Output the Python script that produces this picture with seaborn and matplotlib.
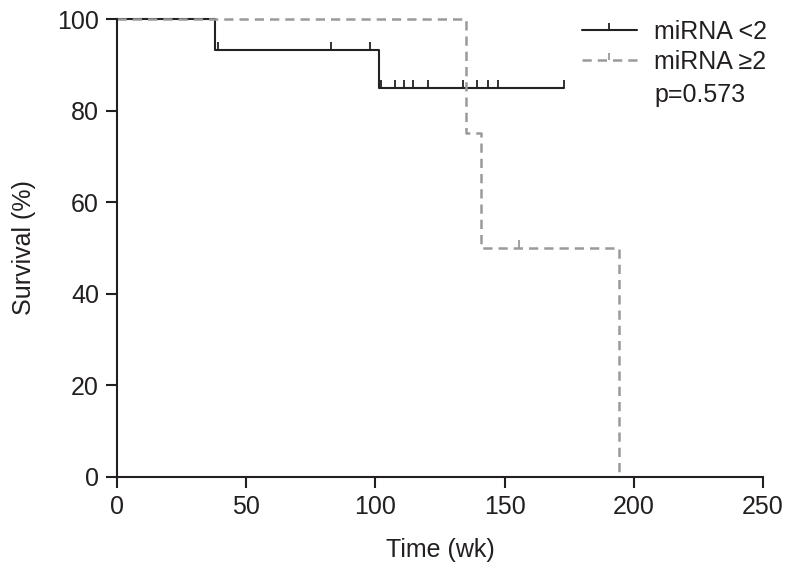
import numpy as np
import pandas as pd
import seaborn as sns
import matplotlib.pyplot as plt
from matplotlib.lines import Line2D
from matplotlib.path import Path

# follow-up times (wk) and event flags (1 = death, 0 = censored)
low_times = [38, 39, 83, 98, 101.5, 102, 107.5, 111, 114.5, 120.5, 134, 139.5, 143.5, 147.5, 173]
low_events = [1, 0, 0, 0, 1, 0, 0, 0, 0, 0, 0, 0, 0, 0, 0]
high_times = [135, 141, 155.5, 194.5]
high_events = [1, 1, 0, 1]
group_labels = ['miRNA <2', 'miRNA \u22652']
p_text = 'p=0.573'
x_ticks = [0, 50, 100, 150, 200, 250]
y_ticks = [0, 20, 40, 60, 80, 100]


def km_table(times, events):
    df = pd.DataFrame({'t': times, 'e': events}).sort_values('t')
    n = len(df)
    s = 1.0
    steps = [(0.0, 100.0)]
    cens = []
    for t, e in zip(df['t'], df['e']):
        if e == 1:
            s = s * (1 - 1 / n)
        else:
            cens.append((t, s * 100))
        steps.append((t, s * 100))
        n -= 1
    return pd.DataFrame(steps, columns=['time', 'surv']), pd.DataFrame(cens, columns=['time', 'surv'])


sns.set_style('ticks')
plt.rcParams['font.family'] = ['Liberation Sans', 'DejaVu Sans']
plt.rcParams['text.color'] = '#231f20'
plt.rcParams['axes.labelcolor'] = '#231f20'
plt.rcParams['xtick.color'] = '#231f20'
plt.rcParams['ytick.color'] = '#231f20'

fig = plt.figure(figsize=(7.97, 5.76), dpi=100)
ax = fig.add_axes([0.147, 0.172, 0.81, 0.795])

tick_up = Path([(0, 0), (0, 1)])

styles = [
    dict(color='#222222', linestyle='-', lw=1.5),
    dict(color='#9a9a9a', linestyle=(0, (3.7, 2.4)), lw=1.8),
]
handles = []
for (times, events), st, lab in zip([(low_times, low_events), (high_times, high_events)], styles, group_labels):
    steps, cens = km_table(times, events)
    sns.lineplot(data=steps, x='time', y='surv', ax=ax, drawstyle='steps-post',
                 estimator=None, sort=False, color=st['color'], linestyle=st['linestyle'],
                 linewidth=st['lw'])
    ax.plot(cens['time'], cens['surv'], linestyle='none', marker=tick_up,
            markersize=12, markeredgewidth=1.3, color=st['color'])
    handles.append(Line2D([], [], color=st['color'], linestyle=st['linestyle'], lw=st['lw'],
                          marker=tick_up, markersize=10, markeredgewidth=1.3))

ax.set_xlim(0, 250)
ax.set_ylim(0, 100)
ax.set_xticks(x_ticks)
ax.set_yticks(y_ticks)
ax.tick_params(labelsize=18, length=8, width=1.5, direction='out', pad=5)
ax.set_xlabel('Time (wk)', fontsize=18, labelpad=14)
ax.set_ylabel('Survival (%)', fontsize=18, labelpad=15)
for sp in ['left', 'bottom']:
    ax.spines[sp].set_linewidth(1.5)
    ax.spines[sp].set_color('#231f20')
sns.despine(ax=ax)
for ln in ax.lines:
    ln.set_clip_on(False)

leg = ax.legend(handles, group_labels, loc='upper left', bbox_to_anchor=(0.72, 0.998),
                frameon=False, fontsize=18, handlelength=2.2, handletextpad=0.7,
                labelspacing=0.25, borderaxespad=0, borderpad=0)
ax.text(0.833, 0.834, p_text, transform=ax.transAxes, fontsize=18, va='center', ha='left')

fig.savefig('out.png', dpi=100)
